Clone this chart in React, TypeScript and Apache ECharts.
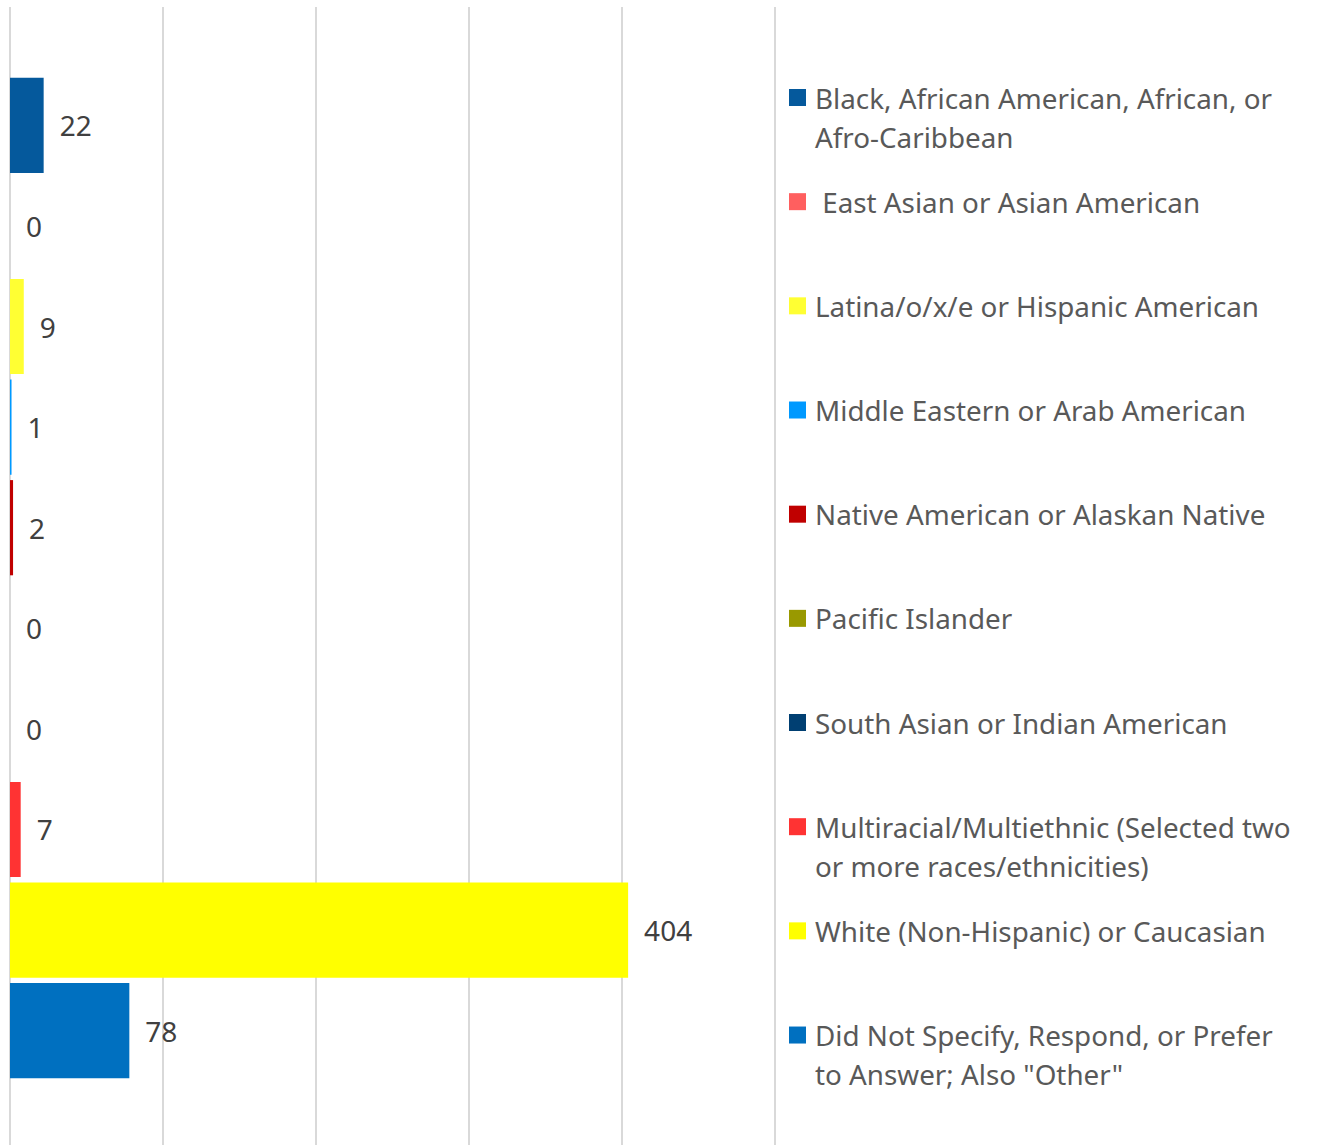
import React, { useEffect, useRef } from "react";
import * as echarts from "echarts";

const categories = [
  "Black, African American, African, or Afro-Caribbean",
  " East Asian or Asian American",
  "Latina/o/x/e or Hispanic American",
  "Middle Eastern or Arab American",
  "Native American or Alaskan Native",
  "Pacific Islander",
  "South Asian or Indian American",
  "Multiracial/Multiethnic (Selected two or more races/ethnicities)",
  "White (Non-Hispanic) or Caucasian",
  'Did Not Specify, Respond, or Prefer to Answer; Also "Other"',
];

const legendLines = [
  ["Black, African American, African, or", "Afro-Caribbean"],
  [" East Asian or Asian American"],
  ["Latina/o/x/e or Hispanic American"],
  ["Middle Eastern or Arab American"],
  ["Native American or Alaskan Native"],
  ["Pacific Islander"],
  ["South Asian or Indian American"],
  ["Multiracial/Multiethnic (Selected two", "or more races/ethnicities)"],
  ["White (Non-Hispanic) or Caucasian"],
  ["Did Not Specify, Respond, or Prefer", 'to Answer; Also "Other"'],
];

const counts = [22, 0, 9, 1, 2, 0, 0, 7, 404, 78];

const colors = [
  "#05599C",
  "#FF5F5F",
  "#FFFF33",
  "#0099FF",
  "#C00000",
  "#999900",
  "#003F72",
  "#FF3333",
  "#FFFF00",
  "#0070C0",
];

const xMin = 0;
const xMax = 500;
const xInterval = 100;

const FONT = "'Noto Sans', Lato, sans-serif";

export default function App() {
  const ref = useRef<HTMLDivElement>(null);

  useEffect(() => {
    document.body.style.margin = "0";
    if (!ref.current) return;
    const chart = echarts.init(ref.current, null, { renderer: "svg" });

    const lineH = 39;
    const firstCenter = 97.5;
    const step = 104.17;

    const legends = categories.map((name, i) => {
      const lines = legendLines[i];
      const text = lines.length > 1 ? "\n" + lines.join("\n") : lines[0];
      const nLines = lines.length > 1 ? 3 : 1;
      const center = firstCenter + i * step;
      return {
        show: true,
        data: [name],
        orient: "vertical",
        left: 789,
        top: center - (nLines * lineH) / 2,
        padding: 0,
        itemWidth: 17,
        itemHeight: 17,
        icon: "rect",
        selectedMode: false,
        formatter: () => text,
        textStyle: {
          fontFamily: FONT,
          fontSize: 27.8,
          color: "#595959",
          lineHeight: lineH,
          padding: [0, 0, 0, 4],
        },
      };
    });

    const series = categories.map((name, i) => ({
      type: "bar",
      name,
      data: [counts[i]],
      barWidth: 95.2,
      barGap: "5.67%",
      itemStyle: { color: colors[i] },
      label: {
        show: true,
        position: "right",
        distance: 16,
        fontFamily: FONT,
        fontSize: 28,
        color: "#404040",
      },
    }));

    chart.setOption({
      animation: false,
      legend: legends,
      grid: { left: 10, right: 542, top: 7, bottom: 0, containLabel: false },
      xAxis: {
        type: "value",
        min: xMin,
        max: xMax,
        interval: xInterval,
        axisLabel: { show: false },
        axisLine: { show: false },
        axisTick: { show: false },
        splitLine: { show: true, lineStyle: { color: "#D9D9D9", width: 2 } },
      },
      yAxis: {
        type: "category",
        data: [""],
        axisLabel: { show: false },
        axisLine: { show: false },
        axisTick: { show: false },
      },
      series,
    });

    return () => chart.dispose();
  }, []);

  return (
    <div style={{ width: 1317, height: 1145, overflow: "hidden" }}>
      <div ref={ref} style={{ width: 1317, height: 1149 }} />
    </div>
  );
}
